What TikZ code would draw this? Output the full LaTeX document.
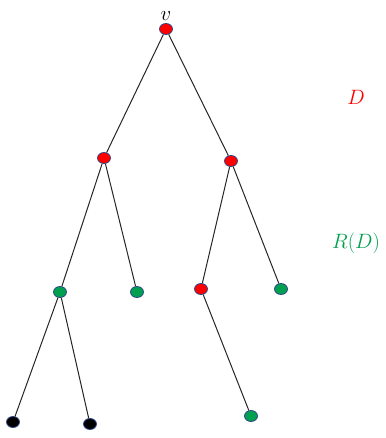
\documentclass[tikz,border=0pt]{standalone}
\usetikzlibrary{shapes.geometric,positioning}
\definecolor{vred}{RGB}{255,0,0}
\definecolor{vgreen}{RGB}{0,160,80}
\definecolor{vblack}{RGB}{0,0,0}
\definecolor{rim}{RGB}{47,70,130}
\begin{document}
\begin{tikzpicture}[
  x=1pt, y=-1pt,
  vertex/.style={ellipse, draw=rim, line width=.8pt, minimum width=13pt,
    minimum height=11pt, inner sep=0pt},
  dvertex/.style={vertex, fill=vred},
  rvertex/.style={vertex, fill=vgreen},
  leaf/.style={vertex, fill=vblack},
  edge/.style={line width=1pt, black!85},
  tag/.style={font=\huge}
]
\useasboundingbox (0,0) rectangle (385,438);
\node[dvertex] (v) at (166,29) {};
\node[dvertex] (a) at (104,158) {};
\node[dvertex] (b) at (231,161) {};
\node[rvertex] (aa) at (60,292) {};
\node[rvertex] (ab) at (137,292) {};
\node[dvertex] (ba) at (201,289) {};
\node[rvertex] (bb) at (281,289) {};
\node[leaf] (aaa) at (13,422) {};
\node[leaf] (aab) at (90,424) {};
\node[rvertex] (baa) at (251,416) {};
\node[tag, above=-1pt of v] (vlabel) {$v$};
\node[tag, text=vred] (dlabel) at (356,97) {$D$};
\node[tag, text=vgreen] (rlabel) at (356,243) {$R(D)$};
\foreach \p/\c in {v/a, v/b, a/aa, a/ab, b/ba, b/bb, aa/aaa, aa/aab, ba/baa}
  \draw[edge] (\p) -- (\c);
\end{tikzpicture}
\end{document}
